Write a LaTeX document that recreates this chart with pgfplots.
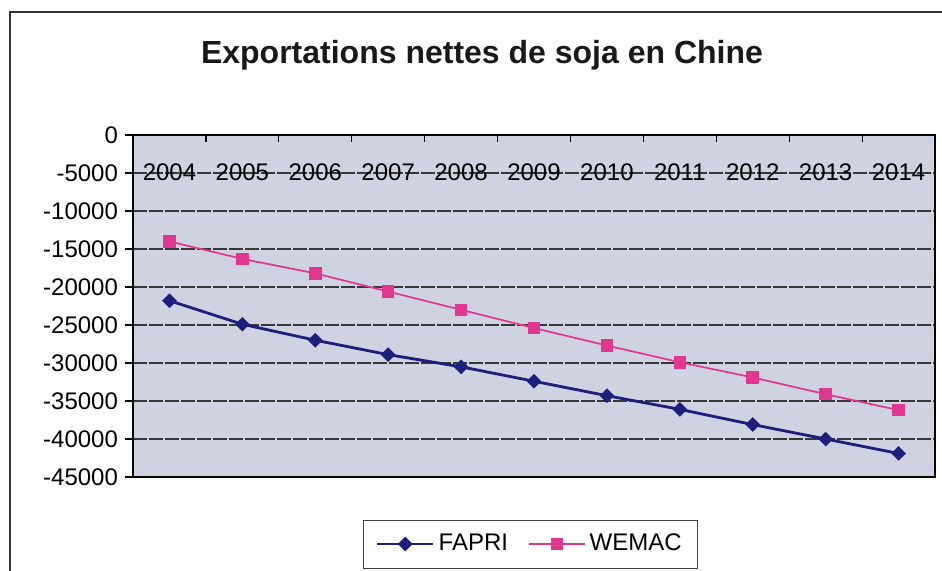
\documentclass[border=0pt]{standalone}
\usepackage{fontspec}
\setmainfont{Liberation Sans}
\usepackage{pgfplots}
\pgfplotsset{compat=1.18}
\definecolor{plotbg}{RGB}{207,210,224}
\definecolor{fapri}{RGB}{30,30,125}
\definecolor{wemac}{RGB}{225,55,145}
\definecolor{gridc}{RGB}{55,55,55}
\begin{document}
\begin{tikzpicture}[x=1pt,y=1pt]
\begin{axis}[
  at={(66.5pt,46.5pt)}, anchor=south west,
  scale only axis, width=401pt, height=171pt,
  xmin=-0.5, xmax=10.5, ymin=-45000, ymax=0,
  scaled y ticks=false,
  axis background/.style={fill=plotbg},
  axis line style={black, line width=0.8pt},
  xtick={0,1,2,3,4,5,6,7,8,9,10},
  xticklabels={2004,2005,2006,2007,2008,2009,2010,2011,2012,2013,2014},
  xticklabel pos=upper,
  xtick pos=upper,
  major x tick style={draw=none},
  extra x ticks={0.5,1.5,2.5,3.5,4.5,5.5,6.5,7.5,8.5,9.5},
  extra x tick labels={},
  extra x tick style={xtick pos=upper, tick align=inside, major tick length=3.5pt,
    major x tick style={draw=black, line width=0.6pt}, xmajorgrids=false},
  xticklabel style={font=\fontsize{12}{14}\selectfont, anchor=center, yshift=-18.5pt},
  ytick={-45000,-40000,-35000,-30000,-25000,-20000,-15000,-10000,-5000,0},
  yticklabels={-45000,-40000,-35000,-30000,-25000,-20000,-15000,-10000,-5000,0},
  ytick pos=left,
  ytick align=outside,
  major tick length=4pt,
  major y tick style={black, line width=0.6pt},
  yticklabel style={font=\fontsize{12}{14}\selectfont},
  ymajorgrids,
  grid style={gridc, dash pattern=on 7pt off 1pt, line width=0.6pt},
  legend columns=2,
  legend style={at={(0.496,-0.196)}, anchor=center, draw=black!75, fill=white,
    font=\fontsize{12}{14}\selectfont, inner xsep=6pt, inner ysep=5pt,
    /tikz/every even column/.append style={column sep=8pt}},
  legend image code/.code={\draw[mark repeat=2,mark phase=2,#1] plot coordinates {(0pt,0pt) (14pt,0pt) (28pt,0pt)};},
]
\addplot[fapri, line width=1.4pt, mark=square*, mark size=1.9pt, mark options={rotate=45, fill=fapri, solid}]
  coordinates {(0,-21800) (1,-24900) (2,-27000) (3,-28900) (4,-30500) (5,-32400) (6,-34300) (7,-36100) (8,-38100) (9,-40000) (10,-41900)};
\addlegendentry{FAPRI}
\addplot[wemac, line width=0.85pt, mark=square*, mark size=2.7pt, mark options={fill=wemac, solid}]
  coordinates {(0,-14000) (1,-16300) (2,-18200) (3,-20600) (4,-23000) (5,-25400) (6,-27700) (7,-29900) (8,-31900) (9,-34100) (10,-36200)};
\addlegendentry{WEMAC}
\end{axis}
\node[font=\bfseries\fontsize{16}{19}\selectfont, text=black!90] at (241pt,257.5pt) {Exportations nettes de soja en Chine};
\draw[line width=1pt, black!80] (5pt,-2pt) -- (5pt,279pt) -- (473pt,279pt);
\pgfresetboundingbox
\useasboundingbox (0,0) rectangle (471pt,285pt);
\end{tikzpicture}
\end{document}
